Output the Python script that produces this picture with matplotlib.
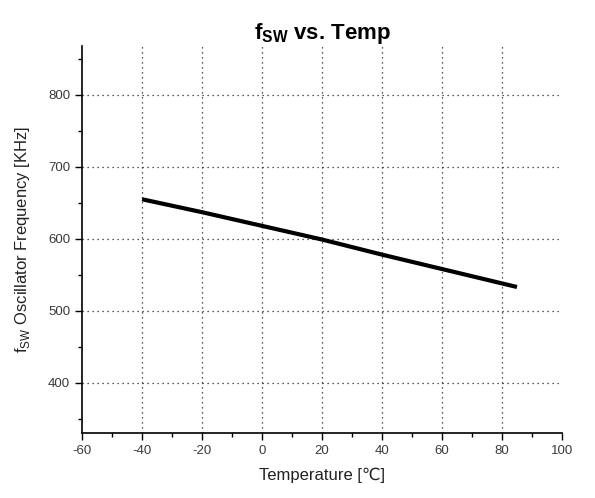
import matplotlib
matplotlib.use('Agg')
import matplotlib.pyplot as plt
from matplotlib.ticker import MultipleLocator

plt.rcParams['font.family'] = ['Liberation Sans', 'DejaVu Sans']
plt.rcParams['mathtext.fontset'] = 'custom'
plt.rcParams['mathtext.rm'] = 'Liberation Sans'
plt.rcParams['mathtext.bf'] = 'Liberation Sans:bold'
plt.rcParams['axes.unicode_minus'] = False

temp = [-40, -20, 0, 20, 40, 60, 80, 85]
freq = [655, 637, 618, 599, 578, 558, 538, 533]

x_ticks = [-60, -40, -20, 0, 20, 40, 60, 80, 100]
y_ticks = [400, 500, 600, 700, 800]

fig = plt.figure(figsize=(5.95, 4.98), dpi=100)
ax = fig.add_axes([0.138, 0.1305, 0.8065, 0.777])

ax.plot(temp, freq, color='black', lw=3, solid_capstyle='butt')

ax.set_xlim(-60, 100)
ax.set_ylim(330, 868)
ax.set_xticks(x_ticks)
ax.set_yticks(y_ticks)
ax.xaxis.set_minor_locator(MultipleLocator(10))
ax.yaxis.set_minor_locator(MultipleLocator(50))
ax.tick_params(which='major', direction='out', length=5, width=1,
               labelsize=9.5, labelcolor='#3a3a3a')
ax.tick_params(which='minor', direction='out', length=3, width=1)

ax.grid(True, which='major', linestyle=(0, (1, 3)), color='#222222', lw=0.9)
# no vertical grid on the spine or the right edge
xgl = ax.get_xgridlines()
xgl[0].set_visible(False)
xgl[-1].set_visible(False)

for s in ['top', 'right']:
    ax.spines[s].set_visible(False)
for s in ['left', 'bottom']:
    ax.spines[s].set_linewidth(1.2)

ax.set_xlabel('Temperature [\u2103]', fontsize=12, color='#222222', labelpad=8)
ax.set_ylabel(r'f$_{\mathrm{SW}}$ Oscillator Frequency [KHz]', fontsize=12,
              color='#222222', labelpad=12)
ax.set_title(r'f$_{\mathbf{SW}}$ vs. Temp', fontsize=16, fontweight='bold', pad=5)

fig.savefig('out.png', dpi=100)
